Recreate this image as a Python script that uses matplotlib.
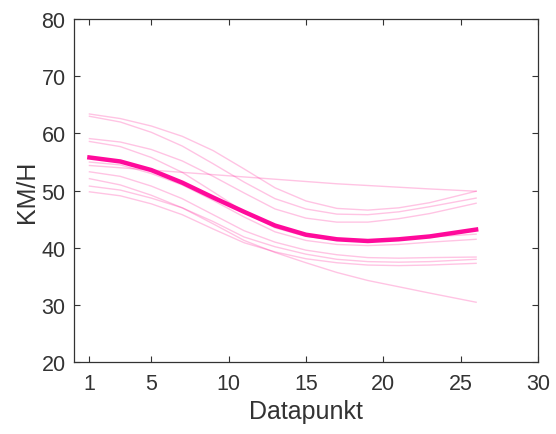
import matplotlib
matplotlib.use("Agg")
import matplotlib.pyplot as plt

plt.rcParams['font.family'] = ['Liberation Sans', 'DejaVu Sans']

x_points = [1, 3, 5, 7, 9, 11, 13, 15, 17, 19, 21, 23, 26]

line_a = [54.4, 54.0, 53.6, 53.2, 52.8, 52.4, 52.0, 51.6, 51.2, 50.9, 50.6, 50.3, 49.9]
line_b = [63.4, 62.6, 61.3, 59.5, 57.0, 53.8, 50.5, 48.2, 46.9, 46.6, 47.0, 47.9, 49.9]
line_c = [63.0, 62.0, 60.2, 57.8, 54.7, 51.5, 48.6, 46.8, 45.9, 45.8, 46.3, 47.2, 48.7]
line_d = [59.1, 58.5, 57.2, 55.2, 52.5, 49.6, 46.8, 45.2, 44.5, 44.5, 45.1, 46.0, 47.8]
line_e = [58.6, 57.7, 55.8, 53.2, 49.8, 46.3, 43.5, 42.0, 41.4, 41.3, 41.5, 41.9, 42.4]
line_f = [55.0, 54.5, 53.0, 51.0, 48.3, 45.4, 42.8, 41.3, 40.6, 40.4, 40.6, 41.0, 41.5]
line_g = [53.3, 52.5, 50.8, 48.6, 45.8, 43.0, 41.0, 39.6, 38.8, 38.3, 38.2, 38.3, 38.4]
line_h = [52.1, 51.0, 49.2, 47.0, 44.2, 41.3, 39.2, 37.4, 35.7, 34.3, 33.2, 32.1, 30.5]
line_i = [50.8, 50.1, 48.7, 47.0, 44.6, 41.9, 40.2, 38.9, 38.0, 37.6, 37.5, 37.6, 38.0]
line_j = [49.8, 49.1, 47.7, 45.8, 43.3, 40.9, 39.3, 38.1, 37.4, 37.0, 36.9, 37.0, 37.3]
thin_lines = [line_a, line_b, line_c, line_d, line_e, line_f, line_g, line_h, line_i, line_j]

mean_line = [55.8, 55.1, 53.6, 51.4, 48.8, 46.3, 43.9, 42.3, 41.5, 41.2, 41.5, 42.0, 43.2]

x_ticks = [1, 5, 10, 15, 20, 25, 30]
y_ticks = [20, 30, 40, 50, 60, 70, 80]

fig = plt.figure(figsize=(5.56, 4.35), dpi=100)
ax = fig.add_axes([0.133, 0.1648, 0.8346, 0.7892])

for ys in thin_lines:
    ax.plot(x_points, ys, color='#ff1493', alpha=0.25, lw=1.0,
            solid_joinstyle='round')
ax.plot(x_points, mean_line, color='#ff0a9b', lw=3.2, solid_joinstyle='round')

ax.set_xlim(0, 30)
ax.set_ylim(20, 80)
ax.set_xticks(x_ticks)
ax.set_yticks(y_ticks)
ax.tick_params(direction='in', length=4, width=0.8, colors='#333333',
               labelsize=15.5, top=True, right=True, labelcolor='#333333')
ax.tick_params(axis='x', pad=8)
ax.tick_params(axis='y', pad=6)
for s in ax.spines.values():
    s.set_color('#333333')
    s.set_linewidth(0.9)

ax.set_xlabel('Datapunkt', fontsize=18, color='#333333', labelpad=3)
ax.set_ylabel('KM/H', fontsize=18, color='#333333', labelpad=2)

fig.savefig('out.png', dpi=100)
